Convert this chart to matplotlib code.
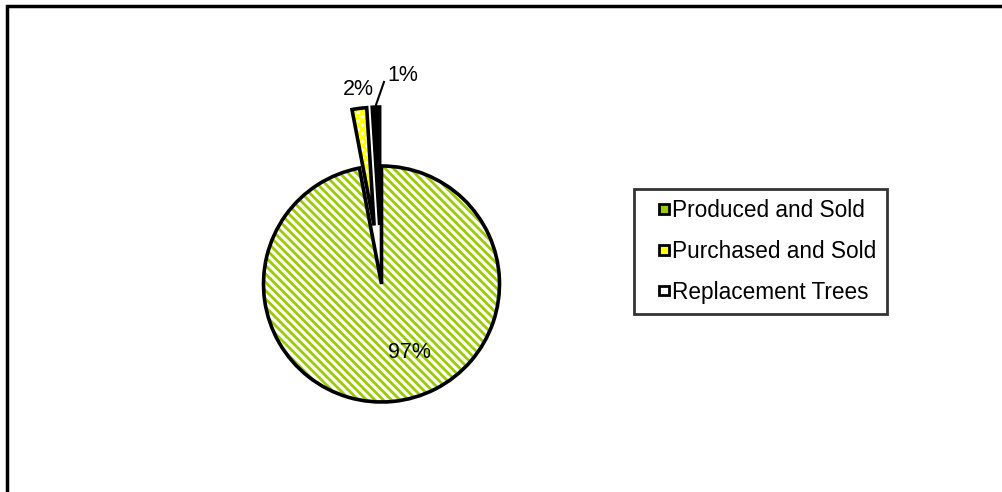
import matplotlib.pyplot as plt
from matplotlib.patches import Patch, Rectangle
from matplotlib.legend_handler import HandlerPatch

# slice data
labels = ["Produced and Sold", "Purchased and Sold", "Replacement Trees"]
shares = [97, 2, 1]
explode = [0, 0.5, 0.5]

plt.rcParams['font.family'] = ['Liberation Sans', 'DejaVu Sans']
plt.rcParams['hatch.linewidth'] = 2.0

W, H = 1002, 492
fig = plt.figure(figsize=(W / 100, H / 100), dpi=100)

# outer chart border (only top and left show)
fig.patches.append(Rectangle((7 / W, -0.1), 1.2, 1 - 6 / H + 0.1, transform=fig.transFigure,
                             fill=False, edgecolor='black', linewidth=2.5))

# pie axes: centre at (381.5, 284) px, radius 118 px
cx, cy, R = 381.5, 284, 118
ax = fig.add_axes([(cx - 2 * R) / W, (H - cy - 2 * R) / H, 4 * R / W, 4 * R / H])

face_hatch = ['\\\\\\\\', 'xxxx', '']
hatch_col = ['#9ACD00', '#FFFF00', 'black']
face_col = ['white', 'white', 'black']

# hatched fill
wedges, _ = ax.pie(shares, explode=explode, startangle=90, counterclock=False, radius=1)
for w, h, c, f in zip(wedges, face_hatch, hatch_col, face_col):
    w.set_facecolor(f)
    w.set_edgecolor(c)
    w.set_hatch(h)
    w.set_linewidth(0)
# outlines
outl, _ = ax.pie(shares, explode=explode, startangle=90, counterclock=False, radius=1,
                 wedgeprops=dict(fill=False, edgecolor='black', linewidth=2.6))
ax.set_xlim(-2, 2)
ax.set_ylim(-2, 2)
ax.axis('off')

pct = [f"{v}%" for v in shares]
ax.text(0.24, -0.58, pct[0], fontsize=15.5, ha='center', va='center')
ax.text(-0.20, 1.65, pct[1], fontsize=15.5, ha='center', va='center')
ax.text(0.18, 1.77, pct[2], fontsize=15.5, ha='center', va='center')
ax.plot([-0.047, 0.021], [1.517, 1.712], color='black', linewidth=1.5, clip_on=False)


# small square sitting at the right end of the handle box
def square_handle(legend, orig_handle, xdescent, ydescent, width, height, fontsize):
    s = 7.0
    return Rectangle((width - xdescent - s, height / 2 - ydescent - s / 2), s, s)


handles = [Patch(facecolor=c, edgecolor='black', linewidth=2)
           for c in ['#9ACD00', '#FFFF00', 'white']]
leg = fig.legend(handles, labels, loc='upper left', bbox_to_anchor=(634 / W, 1 - 189 / H),
                 fontsize=16.3, frameon=True, fancybox=False, handlelength=1.1, handleheight=0.7,
                 handletextpad=0.15, labelspacing=0.78, borderpad=0.45, borderaxespad=0,
                 handler_map={Patch: HandlerPatch(patch_func=square_handle)})
leg.get_frame().set_edgecolor('black')
leg.get_frame().set_linewidth(2)

fig.savefig("out.png", dpi=100)
